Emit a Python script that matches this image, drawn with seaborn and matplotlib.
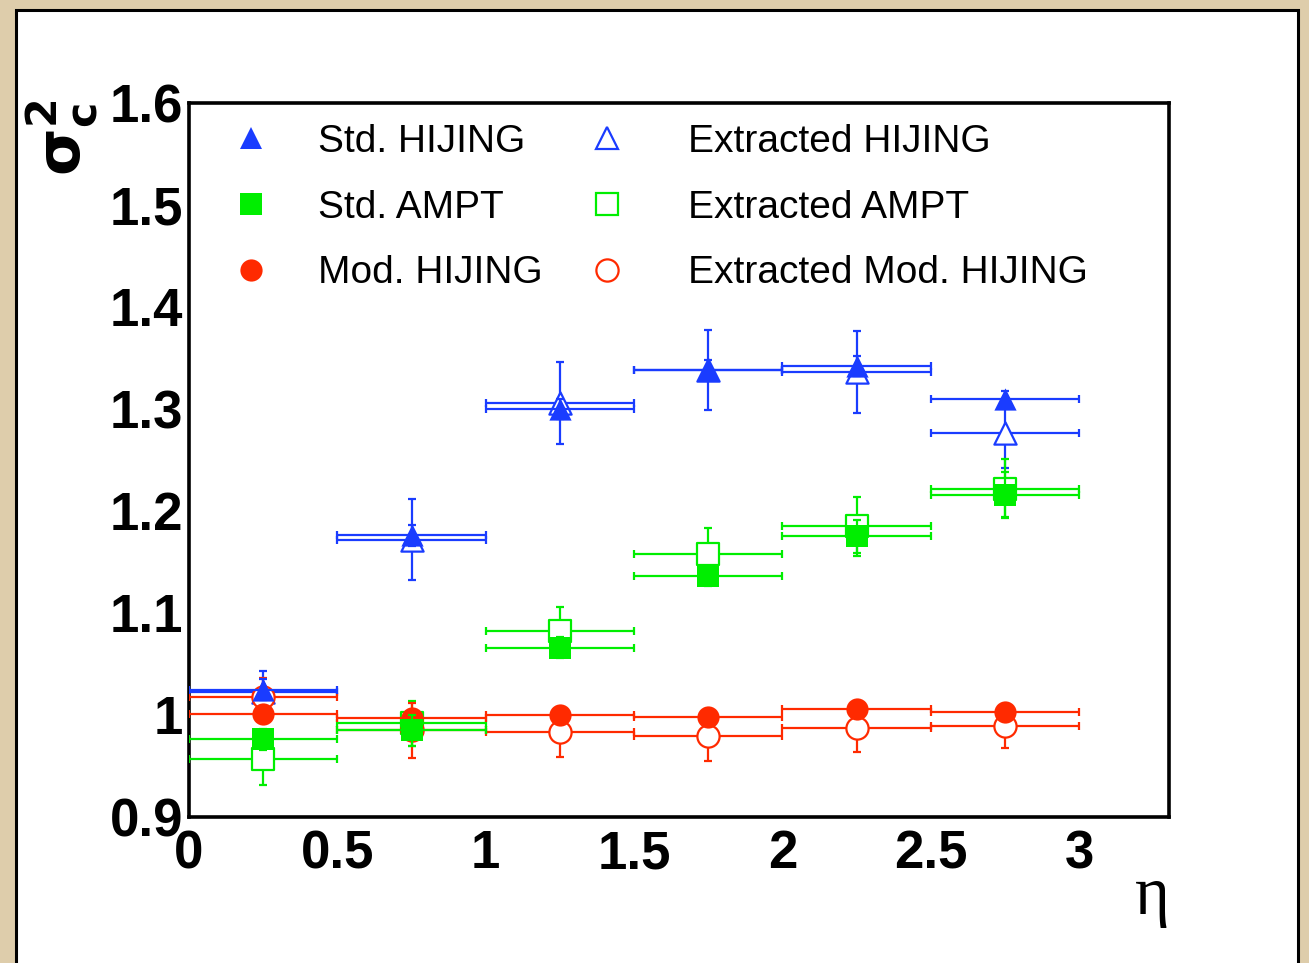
import matplotlib
matplotlib.use("Agg")
import matplotlib.pyplot as plt
from matplotlib.patches import Rectangle
from matplotlib.lines import Line2D
from matplotlib.ticker import MultipleLocator, FuncFormatter
import seaborn as sns
import pandas as pd

# eta bin centres and half widths
eta = [0.25, 0.75, 1.25, 1.75, 2.25, 2.75]
eta_halfwidth = [0.25, 0.25, 0.25, 0.25, 0.25, 0.25]

# sigma_c^2 per eta bin and its uncertainty
std_hijing = [1.025, 1.176, 1.300, 1.338, 1.342, 1.310]
std_hijing_err = [0.010, 0.010, 0.010, 0.010, 0.010, 0.008]
std_ampt = [0.976, 0.985, 1.066, 1.136, 1.175, 1.216]
std_ampt_err = [0.010, 0.015, 0.010, 0.010, 0.016, 0.022]
mod_hijing = [1.001, 0.997, 1.000, 0.998, 1.006, 1.003]
mod_hijing_err = [0.008, 0.008, 0.008, 0.008, 0.008, 0.008]

ext_hijing = [1.023, 1.172, 1.306, 1.338, 1.336, 1.276]
ext_hijing_err = [0.020, 0.040, 0.040, 0.039, 0.040, 0.034]
ext_ampt = [0.957, 0.992, 1.082, 1.158, 1.185, 1.222]
ext_ampt_err = [0.026, 0.022, 0.024, 0.025, 0.029, 0.029]
ext_mod_hijing = [1.018, 0.985, 0.983, 0.979, 0.987, 0.989]
ext_mod_hijing_err = [0.018, 0.027, 0.024, 0.024, 0.023, 0.021]

std_labels = ["Std. HIJING", "Std. AMPT", "Mod. HIJING"]
ext_labels = ["Extracted HIJING", "Extracted AMPT", "Extracted Mod. HIJING"]

BLUE = "#1a3cff"
GREEN = "#00ee00"
RED = "#ff2a00"

sns.set_theme(style="white")
plt.rcParams["font.family"] = ["Liberation Sans", "DejaVu Sans"]
plt.rcParams["text.color"] = "black"
plt.rcParams["axes.labelcolor"] = "black"
plt.rcParams["xtick.color"] = "black"
plt.rcParams["ytick.color"] = "black"

W, H = 1309, 963
fig = plt.figure(figsize=(W / 100, H / 100), dpi=100)
fig.patch.set_facecolor("#decdab")

# white canvas with a black frame
fig.add_artist(Rectangle((16 / W, -0.05), (1298 - 16) / W, 1 - 10 / H + 0.05,
                         transform=fig.transFigure, facecolor="white",
                         edgecolor="black", linewidth=2.2, zorder=-10))

ax = fig.add_axes([189 / W, 1 - 817 / H, (1169 - 189) / W, (817 - 103) / H])
ax.set_facecolor("white")

MS = 16  # marker size in points

# (values, errors, colour, marker, filled) in drawing order: open first
series = [
    (ext_hijing, ext_hijing_err, BLUE, "^", False),
    (ext_ampt, ext_ampt_err, GREEN, "s", False),
    (ext_mod_hijing, ext_mod_hijing_err, RED, "o", False),
    (mod_hijing, mod_hijing_err, RED, "o", True),
    (std_ampt, std_ampt_err, GREEN, "s", True),
    (std_hijing, std_hijing_err, BLUE, "^", True),
]

for i, (vals, errs, col, mk, filled) in enumerate(series):
    z = 3 + 2 * i
    ax.errorbar(eta, vals, xerr=eta_halfwidth, yerr=errs, fmt="none",
                ecolor=col, elinewidth=1.6, capsize=3, capthick=1.6, zorder=z)
    df = pd.DataFrame({"eta": eta, "val": vals})
    sns.scatterplot(data=df, x="eta", y="val", ax=ax, marker=mk, s=MS ** 2,
                    color=col if filled else "white", edgecolor=col,
                    linewidth=0 if filled else 1.6, legend=False, zorder=z + 1)

ax.set_xlim(0, 3.303)
ax.set_ylim(0.9, 1.6)
ax.set_xlabel("")
ax.set_ylabel("")

fmt = FuncFormatter(lambda v, p: f"{v:g}")
ax.xaxis.set_major_locator(MultipleLocator(0.5))
ax.xaxis.set_minor_locator(MultipleLocator(0.1))
ax.yaxis.set_major_locator(MultipleLocator(0.1))
ax.yaxis.set_minor_locator(MultipleLocator(0.02))
ax.xaxis.set_major_formatter(fmt)
ax.yaxis.set_major_formatter(fmt)

ax.tick_params(axis="both", which="both", direction="in", colors="black",
               top=False, right=False)
ax.tick_params(axis="x", which="major", length=16, width=1.1, pad=9)
ax.tick_params(axis="x", which="minor", length=8, width=1.1)
ax.tick_params(axis="y", which="major", length=20, width=1.1, pad=4)
ax.tick_params(axis="y", which="minor", length=11, width=1.1)
for lab in ax.get_xticklabels() + ax.get_yticklabels():
    lab.set_fontsize(38)
    lab.set_fontweight("bold")

for sp in ax.spines.values():
    sp.set_visible(True)
    sp.set_color("black")
    sp.set_linewidth(2.6)

# legend: filled markers in the left column, open ones in the right column
def marker_handle(col, mk, filled):
    return Line2D([], [], linestyle="none", marker=mk, markersize=MS,
                  color=col, markerfacecolor=col if filled else "white",
                  markeredgecolor=col, markeredgewidth=0 if filled else 1.6)

kinds = [(BLUE, "^"), (GREEN, "s"), (RED, "o")]
std_handles = [marker_handle(c, m, True) for c, m in kinds]
ext_handles = [marker_handle(c, m, False) for c, m in kinds]

common = dict(frameon=False, fontsize=28, loc="upper left",
              bbox_transform=fig.transFigure, borderpad=0, borderaxespad=0,
              handlelength=1.0, labelspacing=0.76)
leg1 = ax.legend(std_handles, std_labels, bbox_to_anchor=(232 / W, 1 - 124 / H),
                 handletextpad=1.22, **common)
ax.add_artist(leg1)
ax.legend(ext_handles, ext_labels, bbox_to_anchor=(588 / W, 1 - 124 / H),
          handletextpad=1.58, **common)

# axis titles
fig.text(62 / W, 1 - 100 / H, r"$\mathbf{\sigma}_{\mathbf{c}}^{\mathbf{2}}$",
         rotation=90, ha="center", va="top", fontsize=44)
fig.text(1170 / W, 1 - 914 / H, "\u03b7", family="Liberation Serif",
         ha="right", va="baseline", fontsize=48)

fig.savefig("out.png", dpi=100, facecolor=fig.get_facecolor())
